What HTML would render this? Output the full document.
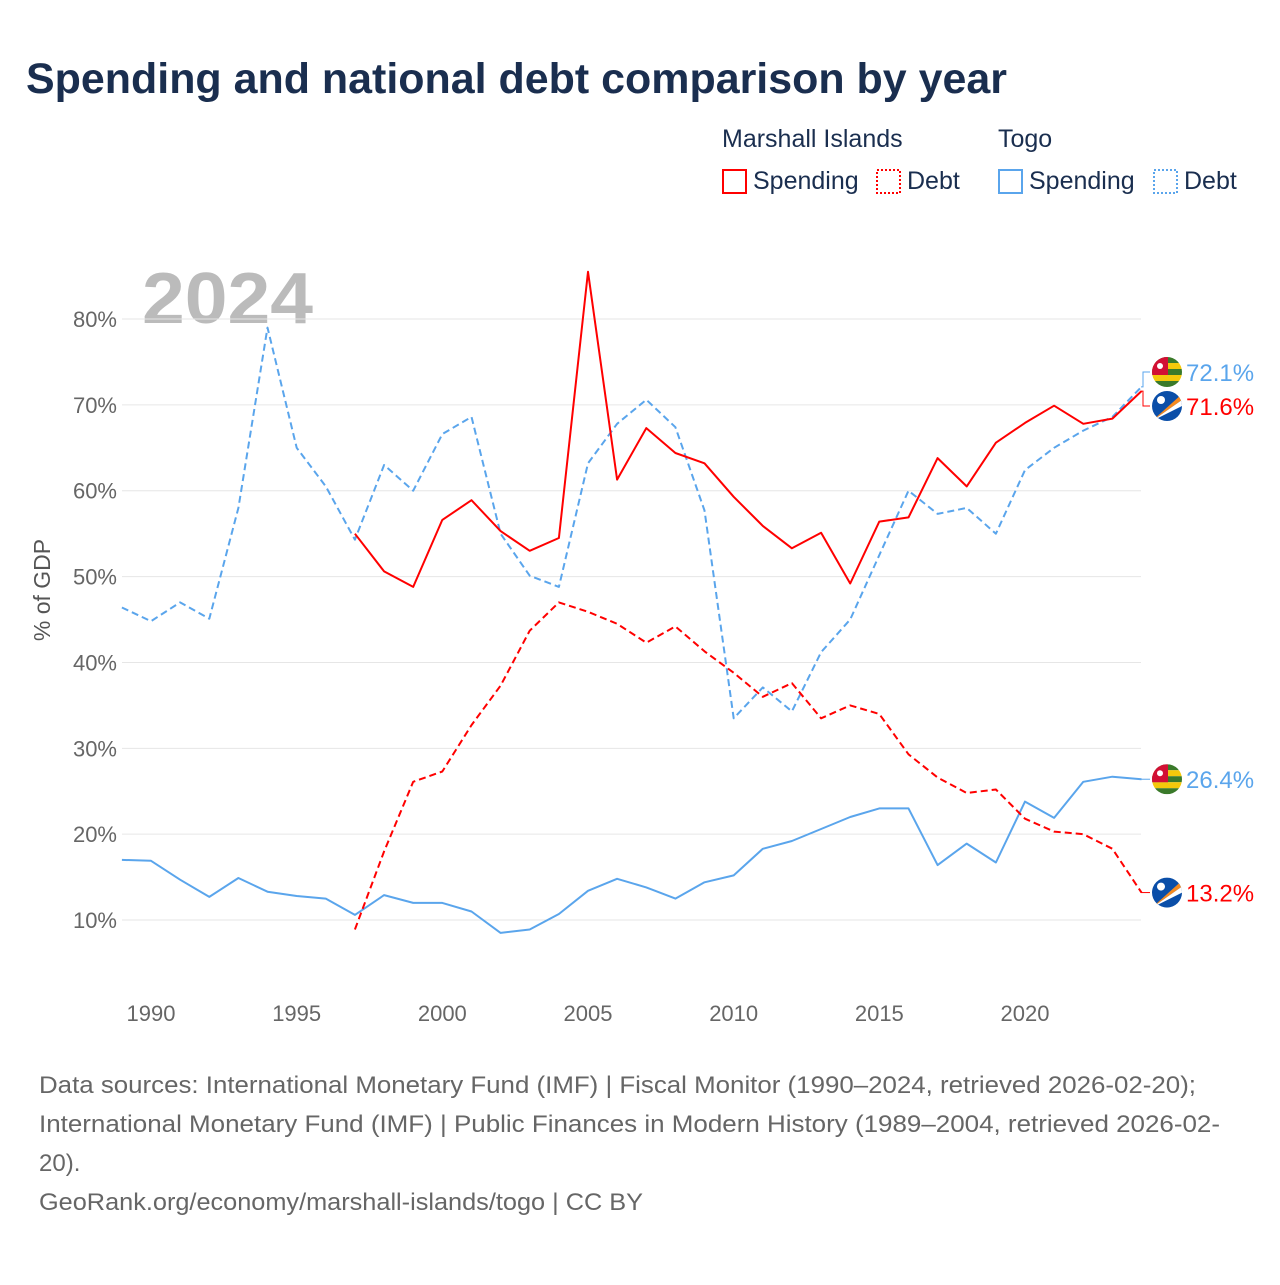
<!DOCTYPE html>
<html><head><meta charset="utf-8"><style>
body{margin:0;background:#fff;font-family:"Liberation Sans",sans-serif}
</style></head><body>
<svg id="c" width="1280" height="1280" xmlns="http://www.w3.org/2000/svg" font-family="Liberation Sans, sans-serif">
<text x="26" y="93" font-size="43" font-weight="bold" fill="#1a2e4f" textLength="981" lengthAdjust="spacingAndGlyphs">Spending and national debt comparison by year</text>
<g font-size="25" fill="#1a2e4f">
<text x="722" y="147">Marshall Islands</text><text x="998" y="147">Togo</text>
<rect x="723" y="170" width="23" height="23" fill="none" stroke="#f00" stroke-width="2"/><text x="753" y="189">Spending</text>
<rect x="877" y="170" width="23" height="23" fill="none" stroke="#f00" stroke-width="2" stroke-dasharray="2,2"/><text x="907" y="189">Debt</text>
<rect x="999" y="170" width="23" height="23" fill="none" stroke="#5aa5ec" stroke-width="2"/><text x="1029" y="189">Spending</text>
<rect x="1154" y="170" width="23" height="23" fill="none" stroke="#5aa5ec" stroke-width="2" stroke-dasharray="2,2"/><text x="1184" y="189">Debt</text>
</g>
<text x="142" y="323" font-size="72" font-weight="bold" fill="#bbb" textLength="171" lengthAdjust="spacingAndGlyphs">2024</text>
<text transform="translate(50,590) rotate(-90)" text-anchor="middle" font-size="23" fill="#555">% of GDP</text>
<g id="grid"></g><g id="lines"></g><g id="labels"></g>
<g font-size="24" fill="#666">
<text x="39" y="1093" textLength="1157" lengthAdjust="spacingAndGlyphs">Data sources: International Monetary Fund (IMF) | Fiscal Monitor (1990–2024, retrieved 2026-02-20);</text>
<text x="39" y="1132" textLength="1181" lengthAdjust="spacingAndGlyphs">International Monetary Fund (IMF) | Public Finances in Modern History (1989–2004, retrieved 2026-02-</text>
<text x="39" y="1171">20).</text>
<text x="39" y="1210" textLength="604" lengthAdjust="spacingAndGlyphs">GeoRank.org/economy/marshall-islands/togo | CC BY</text>
</g>
</svg>
<script>
const yTicks=[10,20,30,40,50,60,70,80];
const xTicks=[1990,1995,2000,2005,2010,2015,2020];
const tgYears=[1989,1990,1991,1992,1993,1994,1995,1996,1997,1998,1999,2000,2001,2002,2003,2004,2005,2006,2007,2008,2009,2010,2011,2012,2013,2014,2015,2016,2017,2018,2019,2020,2021,2022,2023,2024];
const tgDebt=[46.4,44.8,47,45.1,58,79,65,60.5,54.3,63,60,66.6,68.6,55,50.1,48.8,63.2,67.8,70.6,67.4,57.7,33.5,37.1,34.3,41.2,45,52.5,60,57.3,58,55,62.4,65,67,68.6,72.1];
const tgSpend=[17,16.9,14.7,12.7,14.9,13.3,12.8,12.5,10.6,12.9,12,12,11,8.5,8.9,10.7,13.4,14.8,13.8,12.5,14.4,15.2,18.3,19.2,20.6,22,23,23,16.4,18.9,16.7,23.8,21.9,26.1,26.7,26.4];
const mhYears=[1997,1998,1999,2000,2001,2002,2003,2004,2005,2006,2007,2008,2009,2010,2011,2012,2013,2014,2015,2016,2017,2018,2019,2020,2021,2022,2023,2024];
const mhSpend=[55,50.6,48.8,56.6,58.9,55.3,53,54.5,85.5,61.3,67.3,64.4,63.2,59.3,55.9,53.3,55.1,49.2,56.4,56.9,63.8,60.5,65.6,67.9,69.9,67.8,68.4,71.6];
const mhDebt=[8.9,18,26.1,27.3,32.7,37.3,43.7,47,45.9,44.5,42.3,44.2,41.3,38.8,36,37.6,33.5,35,34,29.3,26.6,24.8,25.2,21.8,20.3,20,18.3,13.2];
const NS='http://www.w3.org/2000/svg';
const x=v=>151+(v-1990)*874/30, y=v=>1005.9-v*8.586;
function mk(t,a,p){const e=document.createElementNS(NS,t);for(const k in a)e.setAttribute(k,a[k]);p.appendChild(e);return e;}
const grid=document.getElementById('grid');
yTicks.forEach(t=>{const l=mk('line',{x1:122,x2:1141,y1:y(t),y2:y(t),stroke:'#e6e6e6'},grid);


const tx=mk('text',{x:117,y:y(t)+8,'text-anchor':'end','font-size':22,fill:'#666'},grid);tx.textContent=t+'%';

});
xTicks.forEach(t=>{const tx=mk('text',{x:x(t),y:1021,'text-anchor':'middle','font-size':22,fill:'#666'},grid);tx.textContent=t;

});
const lines=document.getElementById('lines');
function series(ys,vs,col,dash,name){const d=ys.map((yr,i)=>(i?'L':'M')+x(yr).toFixed(1)+','+y(vs[i]).toFixed(1)).join(' ');
const p=mk('path',{d:d,fill:'none',stroke:col,'stroke-width':2,'stroke-dasharray':dash?'7,4':'none','stroke-linejoin':'round'},lines);

}
series(tgYears,tgDebt,'#5aa5ec',true,'togo-debt-line');
series(tgYears,tgSpend,'#5aa5ec',false,'togo-spending-line');
series(mhYears,mhSpend,'#f00',false,'mh-spending-line');
series(mhYears,mhDebt,'#f00',true,'mh-debt-line');
const labs=[{v:tgDebt[tgDebt.length-1],c:'#5aa5ec',f:'tg'},{v:mhSpend[mhSpend.length-1],c:'#f00',f:'mh'},{v:tgSpend[tgSpend.length-1],c:'#5aa5ec',f:'tg'},{v:mhDebt[mhDebt.length-1],c:'#f00',f:'mh'}];
labs.forEach(l=>l.py=y(l.v));labs.sort((a,b)=>a.py-b.py);
for(let i=1;i<labs.length;i++){if(labs[i].py-labs[i-1].py<34){const m=(labs[i].py+labs[i-1].py)/2;labs[i-1].py=m-17;labs[i].py=m+17;}}
const lg=document.getElementById('labels');
labs.forEach(l=>{const py=l.py,oy=y(l.v);
mk('polyline',{points:`1141,${oy} 1143,${oy} 1143,${py} 1150,${py}`,fill:'none',stroke:l.c,'stroke-width':1},lg);
const g=mk('g',{transform:`translate(1167,${py})`},lg);


const cp='cp'+Math.round(py);const c=mk('clipPath',{id:cp},g);mk('circle',{r:15},c);
const gg=mk('g',{'clip-path':`url(#${cp})`},g);
if(l.f==='tg'){[0,1,2,3,4].forEach(k=>mk('rect',{x:-15,y:-15+k*6,width:30,height:6,fill:k%2?'#f4c90b':'#3a7a2a'},gg));
mk('rect',{x:-15,y:-15,width:16,height:18,fill:'#d21034'},gg);mk('circle',{cx:-7,cy:-6,r:3,fill:'#fff'},gg);}
else{mk('rect',{x:-15,y:-15,width:30,height:30,fill:'#0a4ea8'},gg);
mk('polygon',{points:'-15,15 15,-12 15,-6',fill:'#f58a1f'},gg);mk('polygon',{points:'-15,15 15,-6 15,0',fill:'#fff'},gg);
mk('circle',{cx:-6,cy:-6,r:4,fill:'#fff'},gg);}
const t=mk('text',{x:1186,y:py+9,'font-size':24,fill:l.c},lg);t.textContent=l.v.toFixed(1)+'%';

});
</script>
</body></html>
